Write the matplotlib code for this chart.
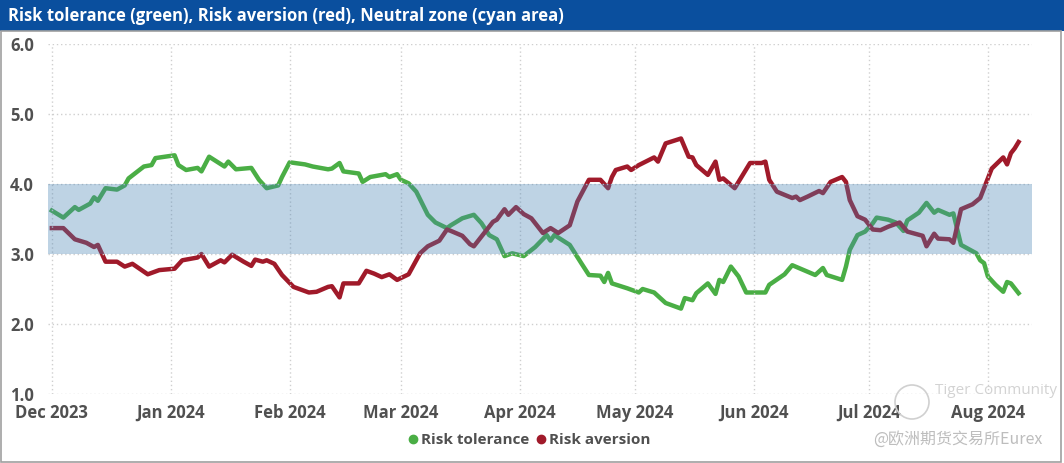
import matplotlib
matplotlib.use("Agg")
import matplotlib.pyplot as plt
from matplotlib.lines import Line2D
from matplotlib.patches import Rectangle, Ellipse
import pandas as pd

# ---------------- data ----------------
tol_dates = ["2023-12-01", "2023-12-04", "2023-12-07", "2023-12-08", "2023-12-11", "2023-12-12",
             "2023-12-13", "2023-12-15", "2023-12-18", "2023-12-20", "2023-12-21", "2023-12-25",
             "2023-12-27", "2023-12-28", "2024-01-02", "2024-01-03", "2024-01-05", "2024-01-08",
             "2024-01-09", "2024-01-11", "2024-01-15", "2024-01-16", "2024-01-18", "2024-01-22",
             "2024-01-24", "2024-01-26", "2024-01-29", "2024-01-30", "2024-02-01", "2024-02-05",
             "2024-02-07", "2024-02-11", "2024-02-12", "2024-02-14", "2024-02-15", "2024-02-19",
             "2024-02-20", "2024-02-22", "2024-02-26", "2024-02-27", "2024-02-29", "2024-03-01",
             "2024-03-03", "2024-03-05", "2024-03-08", "2024-03-10", "2024-03-13", "2024-03-14",
             "2024-03-17", "2024-03-20", "2024-03-22", "2024-03-24", "2024-03-26", "2024-03-28",
             "2024-03-30", "2024-04-02", "2024-04-05", "2024-04-08", "2024-04-09", "2024-04-10",
             "2024-04-14", "2024-04-17", "2024-04-19", "2024-04-22", "2024-04-23", "2024-04-24",
             "2024-04-25", "2024-04-29", "2024-05-02", "2024-05-03", "2024-05-06", "2024-05-09",
             "2024-05-13", "2024-05-14", "2024-05-16", "2024-05-17", "2024-05-20", "2024-05-22",
             "2024-05-23", "2024-05-24", "2024-05-26", "2024-05-28", "2024-05-30", "2024-06-04",
             "2024-06-05", "2024-06-09", "2024-06-11", "2024-06-17", "2024-06-19", "2024-06-20",
             "2024-06-24", "2024-06-25", "2024-06-26", "2024-06-28", "2024-06-30", "2024-07-02",
             "2024-07-03", "2024-07-06", "2024-07-08", "2024-07-10", "2024-07-11", "2024-07-14",
             "2024-07-16", "2024-07-18", "2024-07-19", "2024-07-22", "2024-07-23", "2024-07-25",
             "2024-07-26", "2024-07-29", "2024-07-30", "2024-07-31", "2024-08-01", "2024-08-03",
             "2024-08-05", "2024-08-06", "2024-08-07", "2024-08-09"]
risk_tolerance = [3.62, 3.52, 3.67, 3.63, 3.72, 3.81,
                  3.76, 3.94, 3.92, 3.98, 4.08, 4.25,
                  4.27, 4.37, 4.41, 4.27, 4.20, 4.23,
                  4.18, 4.39, 4.25, 4.32, 4.21, 4.23,
                  4.06, 3.94, 3.98, 4.10, 4.31, 4.28,
                  4.25, 4.21, 4.22, 4.30, 4.18, 4.15,
                  4.03, 4.10, 4.14, 4.10, 4.14, 4.06,
                  4.01, 3.89, 3.56, 3.45, 3.37, 3.41,
                  3.51, 3.56, 3.44, 3.27, 3.21, 2.97,
                  3.01, 2.97, 3.10, 3.27, 3.19, 3.27,
                  3.13, 2.87, 2.70, 2.69, 2.60, 2.73,
                  2.58, 2.51, 2.45, 2.50, 2.45, 2.30,
                  2.22, 2.37, 2.34, 2.44, 2.58, 2.43,
                  2.63, 2.60, 2.82, 2.68, 2.45, 2.45,
                  2.56, 2.71, 2.84, 2.70, 2.80, 2.70,
                  2.63, 2.82, 3.06, 3.27, 3.32, 3.44,
                  3.52, 3.49, 3.45, 3.33, 3.48, 3.59,
                  3.73, 3.59, 3.63, 3.56, 3.58, 3.13,
                  3.10, 3.01, 2.91, 2.87, 2.68, 2.56,
                  2.46, 2.60, 2.58, 2.44]

av_dates = ["2023-12-01", "2023-12-04", "2023-12-07", "2023-12-10", "2023-12-12", "2023-12-13",
            "2023-12-15", "2023-12-18", "2023-12-20", "2023-12-22", "2023-12-26", "2023-12-27",
            "2023-12-29", "2024-01-02", "2024-01-04", "2024-01-08", "2024-01-09", "2024-01-11",
            "2024-01-14", "2024-01-15", "2024-01-17", "2024-01-20", "2024-01-22", "2024-01-23",
            "2024-01-25", "2024-01-26", "2024-01-28", "2024-01-30", "2024-02-02", "2024-02-06",
            "2024-02-08", "2024-02-11", "2024-02-12", "2024-02-14", "2024-02-15", "2024-02-19",
            "2024-02-21", "2024-02-23", "2024-02-25", "2024-02-27", "2024-02-29", "2024-03-03",
            "2024-03-06", "2024-03-08", "2024-03-11", "2024-03-13", "2024-03-14", "2024-03-17",
            "2024-03-19", "2024-03-20", "2024-03-22", "2024-03-25", "2024-03-26", "2024-03-28",
            "2024-03-29", "2024-03-31", "2024-04-02", "2024-04-04", "2024-04-07", "2024-04-09",
            "2024-04-11", "2024-04-14", "2024-04-16", "2024-04-19", "2024-04-22", "2024-04-24",
            "2024-04-25", "2024-04-26", "2024-04-29", "2024-04-30", "2024-05-02", "2024-05-06",
            "2024-05-07", "2024-05-09", "2024-05-13", "2024-05-15", "2024-05-16", "2024-05-17",
            "2024-05-20", "2024-05-22", "2024-05-23", "2024-05-24", "2024-05-27", "2024-05-31",
            "2024-06-03", "2024-06-04", "2024-06-05", "2024-06-07", "2024-06-11", "2024-06-12",
            "2024-06-13", "2024-06-15", "2024-06-18", "2024-06-19", "2024-06-21", "2024-06-24",
            "2024-06-25", "2024-06-26", "2024-06-28", "2024-06-30", "2024-07-02", "2024-07-04",
            "2024-07-06", "2024-07-09", "2024-07-11", "2024-07-15", "2024-07-16", "2024-07-18",
            "2024-07-19", "2024-07-22", "2024-07-23", "2024-07-25", "2024-07-28", "2024-07-30",
            "2024-07-31", "2024-08-02", "2024-08-05", "2024-08-06", "2024-08-07", "2024-08-08",
            "2024-08-09"]
risk_aversion = [3.37, 3.37, 3.21, 3.16, 3.10, 3.13,
                 2.89, 2.89, 2.82, 2.86, 2.71, 2.73,
                 2.77, 2.79, 2.91, 2.95, 3.00, 2.82,
                 2.91, 2.88, 2.99, 2.89, 2.83, 2.92,
                 2.89, 2.91, 2.86, 2.70, 2.53, 2.45,
                 2.46, 2.53, 2.54, 2.38, 2.58, 2.58,
                 2.76, 2.72, 2.67, 2.71, 2.63, 2.71,
                 3.01, 3.11, 3.19, 3.35, 3.33, 3.26,
                 3.14, 3.11, 3.25, 3.46, 3.49, 3.64,
                 3.56, 3.67, 3.57, 3.51, 3.30, 3.37,
                 3.30, 3.41, 3.75, 4.06, 4.06, 3.94,
                 4.10, 4.20, 4.25, 4.20, 4.27, 4.38,
                 4.32, 4.58, 4.65, 4.39, 4.38, 4.27,
                 4.13, 4.32, 4.06, 4.08, 3.94, 4.30,
                 4.30, 4.32, 4.06, 3.89, 3.80, 3.82,
                 3.77, 3.82, 3.90, 3.87, 4.03, 4.10,
                 4.03, 3.77, 3.54, 3.49, 3.35, 3.34,
                 3.39, 3.45, 3.32, 3.26, 3.11, 3.29,
                 3.22, 3.21, 3.16, 3.64, 3.71, 3.80,
                 3.94, 4.22, 4.38, 4.28, 4.44, 4.51,
                 4.60]

neutral_low, neutral_high = 3.0, 4.0
y_ticks = [1.0, 2.0, 3.0, 4.0, 5.0, 6.0]
month_ticks = ["2023-12-01", "2024-01-01", "2024-02-01", "2024-03-01", "2024-04-01",
               "2024-05-01", "2024-06-01", "2024-07-01", "2024-08-01"]
title = "Risk tolerance (green), Risk aversion (red), Neutral zone (cyan area)"
series_names = ["Risk tolerance", "Risk aversion"]

# ---------------- style ----------------
GREEN = "#4aae45"
RED = "#a01a2a"
BAND = "#4682b4"
TXT = "#505050"
FONT = ["Open Sans", "DejaVu Sans"]

W, H = 1064, 463
fig = plt.figure(figsize=(W / 100, H / 100), dpi=100)

# title bar
fig.patches.append(Rectangle((0, 1 - 31 / H), 1, 31 / H, transform=fig.transFigure,
                             facecolor="#0a4f9e", edgecolor="none", zorder=0))
fig.text(8 / W, 1 - 16 / H, title, color="white", fontsize=12, fontweight="bold",
         family=FONT, va="center", ha="left")
# outer frame
fig.patches.append(Rectangle((0.5 / W, 1.5 / H), 1 - 3.5 / W, 1 - 32 / H, transform=fig.transFigure,
                             facecolor="none", edgecolor="#a0a0a0", lw=1.2, zorder=0))

ax = fig.add_axes([48 / W, 1 - 394 / H, (1032 - 48) / W, 350 / H])
td = pd.to_datetime(tol_dates)
ad = pd.to_datetime(av_dates)
ax.plot(td, risk_tolerance, color=GREEN, lw=3.2, solid_joinstyle="round", zorder=2)
ax.plot(ad, risk_aversion, color=RED, lw=3.2, solid_joinstyle="round", zorder=2)
ax.axhspan(neutral_low, neutral_high, facecolor=BAND, alpha=0.35, lw=0, zorder=3)

ax.set_ylim(y_ticks[0], y_ticks[-1])
ax.set_xlim(pd.Timestamp("2023-11-30"), pd.Timestamp("2024-08-12 12:00"))
ax.set_yticks(y_ticks)
ax.set_yticklabels([f"{v:.1f}" for v in y_ticks])
mt = pd.to_datetime(month_ticks)
ax.set_xticks(mt)
ax.set_xticklabels([d.strftime("%b %Y") for d in mt])
ax.grid(True, color="#cfcfcf", linestyle=(0, (1, 2)), lw=1, zorder=4)
ax.set_axisbelow(False)
for s in ax.spines.values():
    s.set_visible(False)
ax.tick_params(length=0)
ax.tick_params(axis="x", pad=7)
ax.yaxis.set_tick_params(pad=0)
for lab in ax.get_yticklabels():
    lab.set_fontfamily(FONT); lab.set_fontweight("bold"); lab.set_fontsize(12); lab.set_color(TXT)
    lab.set_horizontalalignment("left")
    lab.set_verticalalignment("center_baseline")
    lab.set_x(-38 / (1032 - 48))
for lab in ax.get_xticklabels():
    lab.set_fontfamily(FONT); lab.set_fontweight("bold"); lab.set_fontsize(12); lab.set_color(TXT)

handles = [Line2D([], [], ls="none", marker="o", ms=6, mfc=GREEN, mec=GREEN),
           Line2D([], [], ls="none", marker="o", ms=6, mfc=RED, mec=RED)]
leg = fig.legend(handles, series_names, loc="center", bbox_to_anchor=(528 / W, 1 - 440 / H),
                 ncol=2, frameon=False, handletextpad=0.0, columnspacing=0.3, handlelength=1.0,
                 prop={"family": FONT, "weight": "bold", "size": 11})
for t in leg.get_texts():
    t.set_color(TXT)

# watermark
fig.patches.append(Ellipse((912 / W, 1 - 402 / H), 34 / W, 34 / H, transform=fig.transFigure,
                           facecolor="none", edgecolor="#d0d0d0", lw=1.2, zorder=5))
fig.text(935 / W, 1 - 391 / H, "Tiger Community", color="#c8c8c8", fontsize=11,
         family=FONT, va="center", ha="left", alpha=0.8)
fig.text(1042 / W, 1 - 439 / H, "@欧洲期货交易所Eurex", color="#bdbdbd", fontsize=11.5,
         family=["Noto Sans CJK SC", "DejaVu Sans"], va="center", ha="right")

fig.savefig("out.png", dpi=100)
